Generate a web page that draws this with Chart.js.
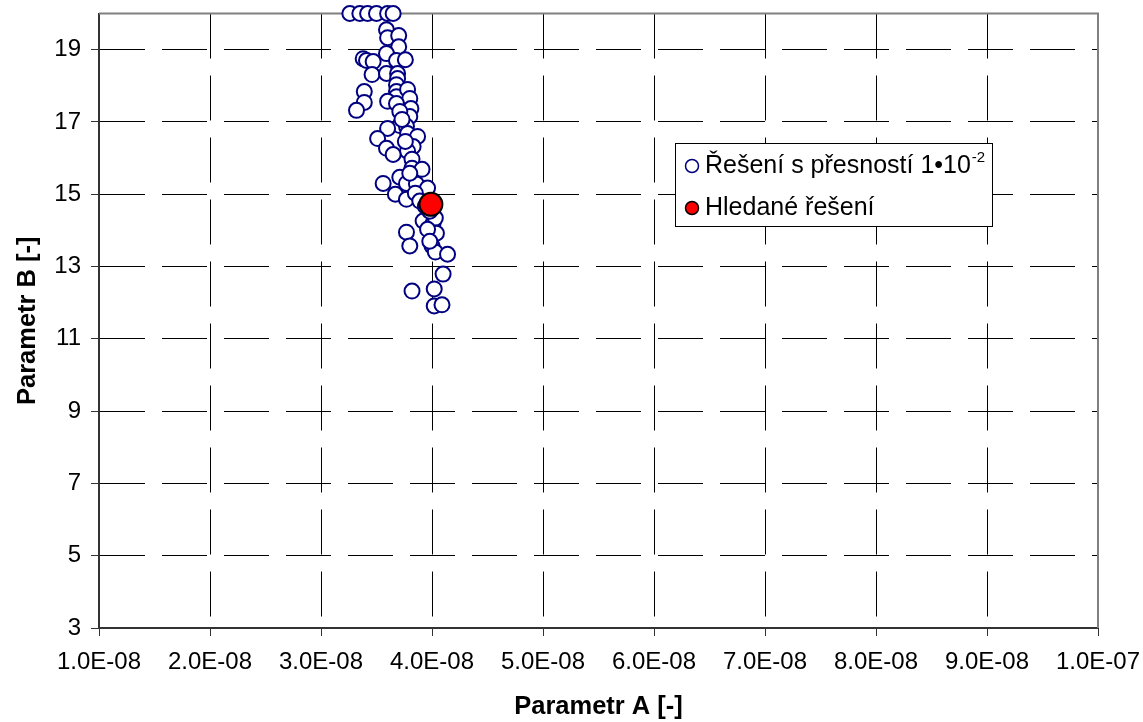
<!DOCTYPE html>
<html>
<head>
<meta charset="utf-8">
<script src="https://cdn.jsdelivr.net/npm/chart.js@4.4.0/dist/chart.umd.min.js"></script>
<style>
html,body{margin:0;padding:0;background:#fff;}
</style>
</head>
<body>
<canvas id="graf" width="1143" height="722"></canvas>
<script>
// reseni s presnosti 1e-2 (parametr A, parametr B)
const parA = [
    3.26e-8, 3.35e-8, 3.42e-8, 3.50e-8, 3.60e-8, 3.65e-8,
    3.59e-8, 3.60e-8, 3.70e-8, 3.70e-8, 3.59e-8, 3.38e-8, 3.41e-8, 3.47e-8, 3.68e-8, 3.76e-8,
    3.46e-8, 3.59e-8, 3.69e-8, 3.69e-8, 3.68e-8, 3.68e-8, 3.68e-8, 3.78e-8, 3.80e-8, 3.81e-8,
    3.80e-8, 3.39e-8, 3.39e-8, 3.32e-8, 3.60e-8, 3.68e-8, 3.71e-8, 3.60e-8, 3.77e-8, 3.78e-8,
    3.87e-8, 3.51e-8, 3.59e-8, 3.83e-8, 3.78e-8, 3.65e-8, 3.82e-8, 3.82e-8, 3.91e-8, 3.56e-8,
    3.71e-8, 3.77e-8, 3.86e-8, 3.96e-8, 3.67e-8, 3.77e-8, 3.85e-8, 3.92e-8, 4.01e-8, 4.03e-8,
    3.98e-8, 3.77e-8, 3.80e-8, 4.01e-8, 4.04e-8, 4.00e-8, 4.03e-8, 4.14e-8, 4.10e-8, 3.82e-8,
    4.02e-8, 4.02e-8, 4.09e-8, 3.71e-8, 3.73e-8, 3.76e-8, 3.80e-8, 3.89e-8, 3.94e-8, 3.96e-8,
    3.98e-8
];
const parB = [
    20, 20, 20, 20, 20, 20,
    19.55, 19.33, 19.39, 19.08, 18.89, 18.75, 18.70, 18.67, 18.70, 18.72,
    18.31, 18.34, 18.34, 18.20, 18.03, 17.84, 17.70, 17.90, 17.65, 17.37,
    17.15, 17.84, 17.54, 17.32, 17.57, 17.51, 16.90, 16.82, 16.88, 16.68,
    16.60, 16.54, 16.27, 16.32, 16.19, 16.10, 15.97, 15.72, 15.69, 15.30,
    15.47, 15.30, 15.28, 15.17, 15.00, 14.86, 15.03, 14.26, 14.20, 14.34,
    14.53, 13.95, 13.57, 13.90, 13.92, 13.57, 13.40, 13.34, 12.79, 12.32,
    12.38, 11.91, 11.94, 17.29, 17.07, 16.46, 15.58, 14.81, 14.67, 14.03,
    13.70
];
// hledane reseni
const hledA = [3.99e-8];
const hledB = [14.72];

const xTicks = [1e-8, 2e-8, 3e-8, 4e-8, 5e-8, 6e-8, 7e-8, 8e-8, 9e-8, 1e-7];
const xTickLabels = ['1.0E-08','2.0E-08','3.0E-08','4.0E-08','5.0E-08','6.0E-08','7.0E-08','8.0E-08','9.0E-08','1.0E-07'];
const yTicks = [3, 5, 7, 9, 11, 13, 15, 17, 19];

const legendTexts = ['Řešení s přesností 1•10', 'Hledané řešení'];
const legendSup = '-2';

const pismo = 'Arial, "Liberation Sans", sans-serif';

const okraj = {
    id: 'okraj',
    beforeDatasetsDraw(chart) {
        const {ctx, chartArea} = chart;
        ctx.save();
        ctx.strokeStyle = '#808080';
        ctx.lineWidth = 2;
        ctx.beginPath();
        ctx.moveTo(chartArea.left, chartArea.top);
        ctx.lineTo(chartArea.right, chartArea.top);
        ctx.lineTo(chartArea.right, chartArea.bottom);
        ctx.stroke();
        ctx.restore();
    }
};

const legenda = {
    id: 'legenda',
    afterDraw(chart) {
        const ctx = chart.ctx;
        ctx.save();
        ctx.font = '25px ' + pismo;
        const w = ctx.measureText(legendTexts[0]).width;
        ctx.font = '15px ' + pismo;
        const ws = ctx.measureText(legendSup).width;
        const sirka = Math.round(29 + w + 1 + ws + 8);

        ctx.fillStyle = '#fff';
        ctx.strokeStyle = '#000';
        ctx.lineWidth = 1;
        ctx.fillRect(675.5, 143.5, sirka, 83);
        ctx.strokeRect(675.5, 143.5, sirka, 83);

        ctx.beginPath();
        ctx.arc(692, 166, 6.5, 0, Math.PI * 2);
        ctx.fillStyle = '#fff';
        ctx.fill();
        ctx.strokeStyle = '#000080';
        ctx.lineWidth = 1.5;
        ctx.stroke();

        ctx.beginPath();
        ctx.arc(692, 208, 6.5, 0, Math.PI * 2);
        ctx.fillStyle = '#ff0000';
        ctx.fill();
        ctx.strokeStyle = '#000';
        ctx.lineWidth = 1.5;
        ctx.stroke();

        ctx.fillStyle = '#000';
        ctx.textBaseline = 'alphabetic';
        ctx.font = '25px ' + pismo;
        ctx.fillText(legendTexts[0], 705, 173);
        ctx.font = '15px ' + pismo;
        ctx.fillText(legendSup, 705 + w + 1, 162);
        ctx.font = '25px ' + pismo;
        ctx.fillText(legendTexts[1], 705, 215);
        ctx.restore();
    }
};

new Chart(document.getElementById('graf'), {
    type: 'scatter',
    data: {
        datasets: [{
            label: legendTexts[0],
            data: parA.map((a, i) => ({x: a, y: parB[i]})),
            pointRadius: 7.5,
            pointBorderWidth: 2,
            pointBackgroundColor: '#fff',
            pointBorderColor: '#000080',
            clip: false,
            order: 2
        }, {
            label: legendTexts[1],
            data: hledA.map((a, i) => ({x: a, y: hledB[i]})),
            pointRadius: 11.5,
            pointBorderWidth: 2,
            pointBackgroundColor: '#ff0000',
            pointBorderColor: '#000',
            clip: false,
            order: 1
        }]
    },
    options: {
        responsive: false,
        animation: false,
        layout: {padding: {left: 0, right: 45, top: 12, bottom: 0}},
        plugins: {legend: {display: false}, tooltip: {enabled: false}},
        scales: {
            x: {
                type: 'linear',
                min: 1e-8,
                max: 1e-7,
                afterBuildTicks: s => { s.ticks = xTicks.map(v => ({value: v})); },
                afterFit: s => { s.height = 94; s.paddingLeft = 0; s.paddingRight = 0; },
                ticks: {
                    autoSkip: false,
                    maxRotation: 0,
                    padding: 12,
                    color: '#000',
                    font: {family: pismo, size: 24},
                    callback: (v, i) => xTickLabels[i]
                },
                grid: {
                    color: '#000',
                    lineWidth: 1,
                    tickLength: 8,
                    tickColor: '#333',
                    tickBorderDash: []
                },
                border: {display: true, color: '#333', width: 2, dash: [45, 17]},
                title: {
                    display: true,
                    text: 'Parametr A [-]',
                    color: '#000',
                    font: {family: pismo, size: 25.5, weight: 'bold'},
                    padding: {top: 2, bottom: 0}
                }
            },
            y: {
                type: 'linear',
                min: 3,
                max: 20,
                afterBuildTicks: s => { s.ticks = yTicks.map(v => ({value: v})); },
                afterFit: s => { s.width = 99; s.paddingTop = 0; s.paddingBottom = 0; },
                ticks: {
                    padding: 10,
                    color: '#000',
                    font: {family: pismo, size: 24}
                },
                grid: {
                    color: '#000',
                    lineWidth: 1,
                    tickLength: 8,
                    tickColor: '#333',
                    tickBorderDash: []
                },
                border: {display: true, color: '#333', width: 2, dash: [45, 17]},
                title: {
                    display: true,
                    text: 'Parametr B [-]',
                    color: '#000',
                    font: {family: pismo, size: 25.5, weight: 'bold'},
                    padding: {top: 13, bottom: 0}
                }
            }
        }
    },
    plugins: [okraj, legenda]
});
</script>
</body>
</html>
